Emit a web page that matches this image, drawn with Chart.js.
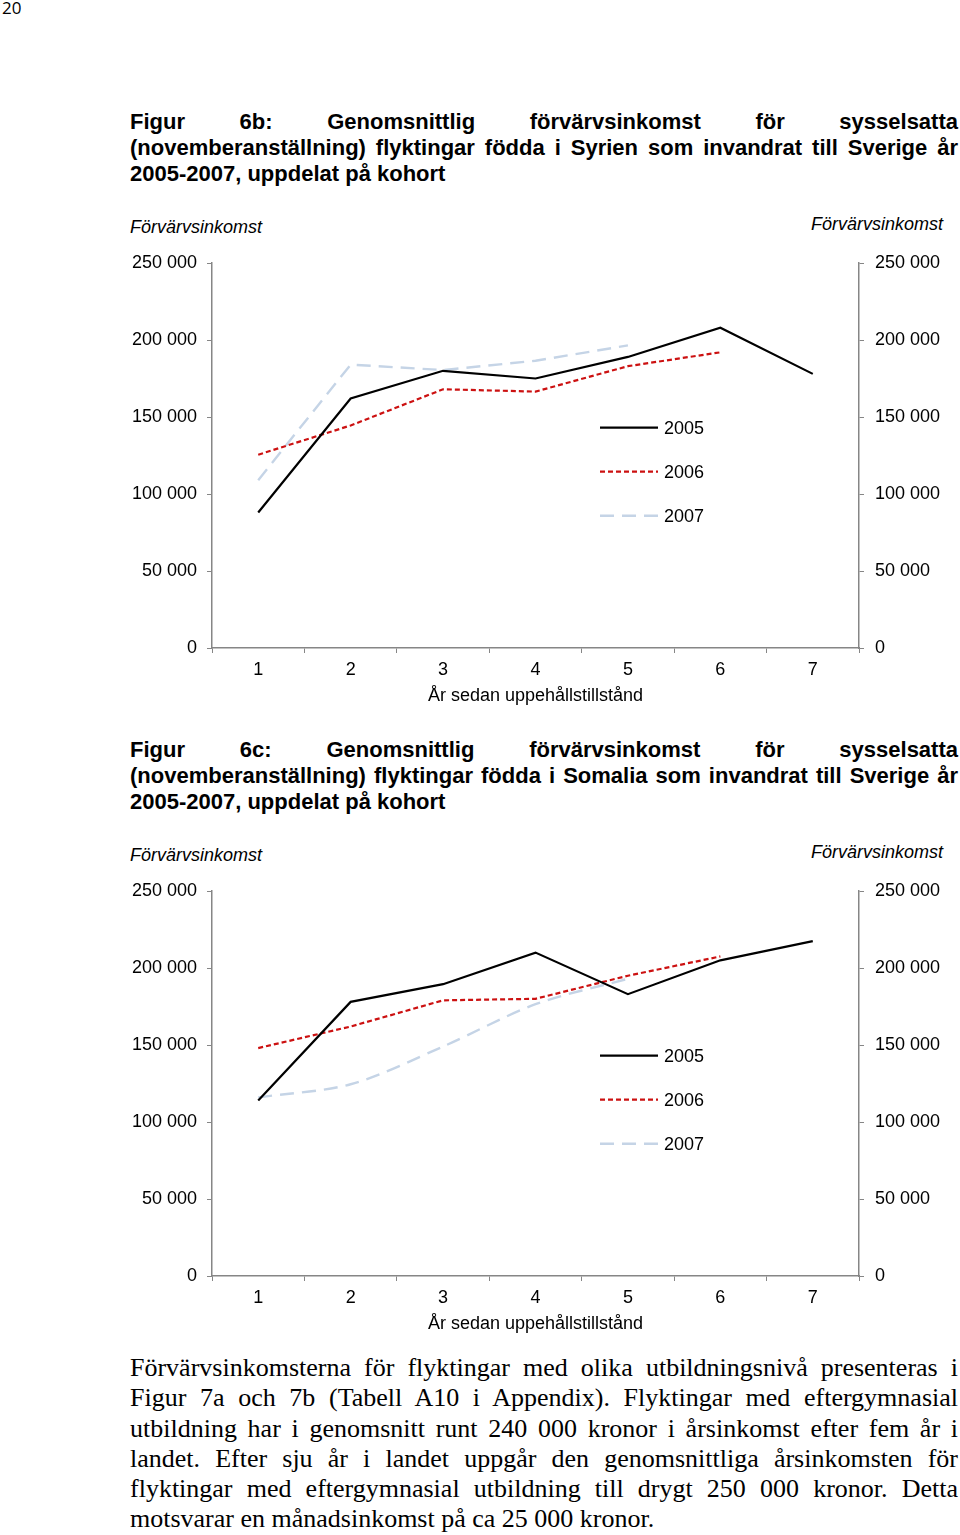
<!DOCTYPE html>
<html lang="sv">
<head>
<meta charset="utf-8">
<script src="https://cdn.jsdelivr.net/npm/chart.js@4.4.1/dist/chart.umd.min.js"></script>
<style>
  html, body { margin: 0; padding: 0; background: #fff; }
  body { width: 960px; height: 1535px; position: relative; overflow: hidden; font-family: "Liberation Sans", Arial, sans-serif; color: #000; }
  .abs { position: absolute; }
  .pnum { left: 2px; top: -1px; font-family: "Open Sans", "DejaVu Sans", sans-serif; font-size: 17px; line-height: 18px; }
  .title { left: 130px; width: 828px; font-weight: bold; font-size: 22px; line-height: 26px; }
  .jl { text-align: justify; text-align-last: justify; white-space: nowrap; }
  .ax { font-style: italic; font-size: 18px; line-height: 20px; }
  .para { left: 130px; width: 828px; font-family: "Liberation Serif", "DejaVu Serif", serif; font-size: 26px; line-height: 30.3px; }
  canvas { position: absolute; left: 0; }
</style>
</head>
<body>
<div class="abs pnum">20</div>

<div class="abs title" style="top:109px">
  <div class="jl">Figur 6b: Genomsnittlig förvärvsinkomst för sysselsatta</div>
  <div class="jl">(novemberanställning) flyktingar födda i Syrien som invandrat till Sverige år</div>
  <div>2005-2007, uppdelat på kohort</div>
</div>
<div class="abs ax" style="left:130px; top:217px">Förvärvsinkomst</div>
<div class="abs ax" style="left:811px; top:214px">Förvärvsinkomst</div>
<canvas id="c1" width="960" height="520" style="top:200px"></canvas>

<div class="abs title" style="top:737px">
  <div class="jl">Figur 6c: Genomsnittlig förvärvsinkomst för sysselsatta</div>
  <div class="jl">(novemberanställning) flyktingar födda i Somalia som invandrat till Sverige år</div>
  <div>2005-2007, uppdelat på kohort</div>
</div>
<div class="abs ax" style="left:130px; top:845px">Förvärvsinkomst</div>
<div class="abs ax" style="left:811px; top:842px">Förvärvsinkomst</div>
<canvas id="c2" width="960" height="520" style="top:828px"></canvas>

<div class="abs para" style="top:1353px">
  <div class="jl">Förvärvsinkomsterna för flyktingar med olika utbildningsnivå presenteras i</div>
  <div class="jl">Figur 7a och 7b (Tabell A10 i Appendix). Flyktingar med eftergymnasial</div>
  <div class="jl">utbildning har i genomsnitt runt 240 000 kronor i årsinkomst efter fem år i</div>
  <div class="jl">landet. Efter sju år i landet uppgår den genomsnittliga årsinkomsten för</div>
  <div class="jl">flyktingar med eftergymnasial utbildning till drygt 250 000 kronor. Detta</div>
  <div>motsvarar en månadsinkomst på ca 25 000 kronor.</div>
</div>

<script>
// ---- data ----
const years = ['1', '2', '3', '4', '5', '6', '7'];
const seriesNames = ['2005', '2006', '2007'];

const syrien2005 = [88000, 162000, 180000, 175000, 189000, 208000, 178000];
const syrien2006 = [125500, 144500, 168000, 166500, 183000, 192000];
const syrien2007 = [109000, 184000, 180500, 186500, 196500];

const somalia2005 = [114000, 178000, 189500, 210000, 183000, 205000, 217500];
const somalia2006 = [148000, 162000, 179000, 180000, 195000, 207500];
const somalia2007 = [116000, 124500, 149000, 176500, 193000];

const yMin = 0, yMax = 250000, yStep = 50000;
const xAxisTitle = 'År sedan uppehållstillstånd';

// ---- helpers ----
const FONT = '"Liberation Sans", Arial, sans-serif';
const AXIS_GREY = '#868686';
function fmt(v) { return String(v).replace(/\B(?=(\d{3})+(?!\d))/g, ' '); }

const legendPlugin = {
  id: 'innerLegend',
  afterDatasetsDraw(chart, args, opts) {
    const ctx = chart.ctx;
    chart.data.datasets.forEach((ds, i) => {
      const y = opts.y0 + i * opts.dy;
      ctx.save();
      ctx.strokeStyle = ds.borderColor;
      ctx.lineWidth = ds.borderWidth;
      ctx.setLineDash(ds.borderDash || []);
      ctx.beginPath();
      ctx.moveTo(opts.x1, y);
      ctx.lineTo(opts.x2, y);
      ctx.stroke();
      ctx.setLineDash([]);
      ctx.fillStyle = '#000';
      ctx.font = '18px ' + FONT;
      ctx.textBaseline = 'middle';
      ctx.textAlign = 'left';
      ctx.fillText(ds.label, opts.x2 + 6, y + 1);
      ctx.restore();
    });
  }
};

function makeChart(id, d5, d6, d7, smooth7) {
  const tickFont = { family: FONT, size: 18 };
  const yCommon = (pos, pad) => ({
    type: 'linear', position: pos, min: yMin, max: yMax,
    afterFit(s) { s.width = pos === 'left' ? 212 : 101; },
    ticks: { stepSize: yStep, color: '#000', font: tickFont, padding: pad, callback: v => fmt(v) },
    grid: { drawOnChartArea: false, drawTicks: true, tickLength: 5, color: AXIS_GREY },
    border: { display: true, color: AXIS_GREY, width: 1.5 }
  });
  return new Chart(document.getElementById(id), {
    type: 'line',
    data: {
      labels: years,
      datasets: [
        { label: seriesNames[0], data: d5, borderColor: '#000000', borderWidth: 2.2, borderDash: [], yAxisID: 'y', tension: 0 },
        { label: seriesNames[1], data: d6, borderColor: '#cc1111', borderWidth: 2.2, borderDash: [5, 3], yAxisID: 'y', tension: 0 },
        { label: seriesNames[2], data: d7, borderColor: '#c5d4e6', borderWidth: 2.4, borderDash: [14, 8], yAxisID: 'y', tension: smooth7 ? 0.3 : 0 }
      ]
    },
    options: {
      responsive: false,
      animation: false,
      devicePixelRatio: 1,
      layout: { padding: { top: 63, left: 0, right: 0, bottom: 0 } },
      elements: { point: { radius: 0, hoverRadius: 0 }, line: { borderCapStyle: 'butt', borderJoinStyle: 'miter' } },
      plugins: {
        legend: { display: false },
        tooltip: { enabled: false },
        innerLegend: { x1: 600, x2: 658, y0: 227.7, dy: 44 }
      },
      scales: {
        x: {
          type: 'category', offset: true,
          afterFit(s) { s.height = 72; },
          ticks: { color: '#000', font: tickFont, padding: 6, maxRotation: 0 },
          grid: { offset: true, drawOnChartArea: false, drawTicks: true, tickLength: 5, color: AXIS_GREY },
          border: { display: true, color: AXIS_GREY, width: 1.5 },
          title: { display: true, text: xAxisTitle, color: '#000', font: tickFont, padding: { top: 0, bottom: 13 } }
        },
        y: yCommon('left', 10),
        y2: yCommon('right', 11)
      }
    },
    plugins: [legendPlugin]
  });
}

makeChart('c1', syrien2005, syrien2006, syrien2007, false);
makeChart('c2', somalia2005, somalia2006, somalia2007, true);
</script>
</body>
</html>
